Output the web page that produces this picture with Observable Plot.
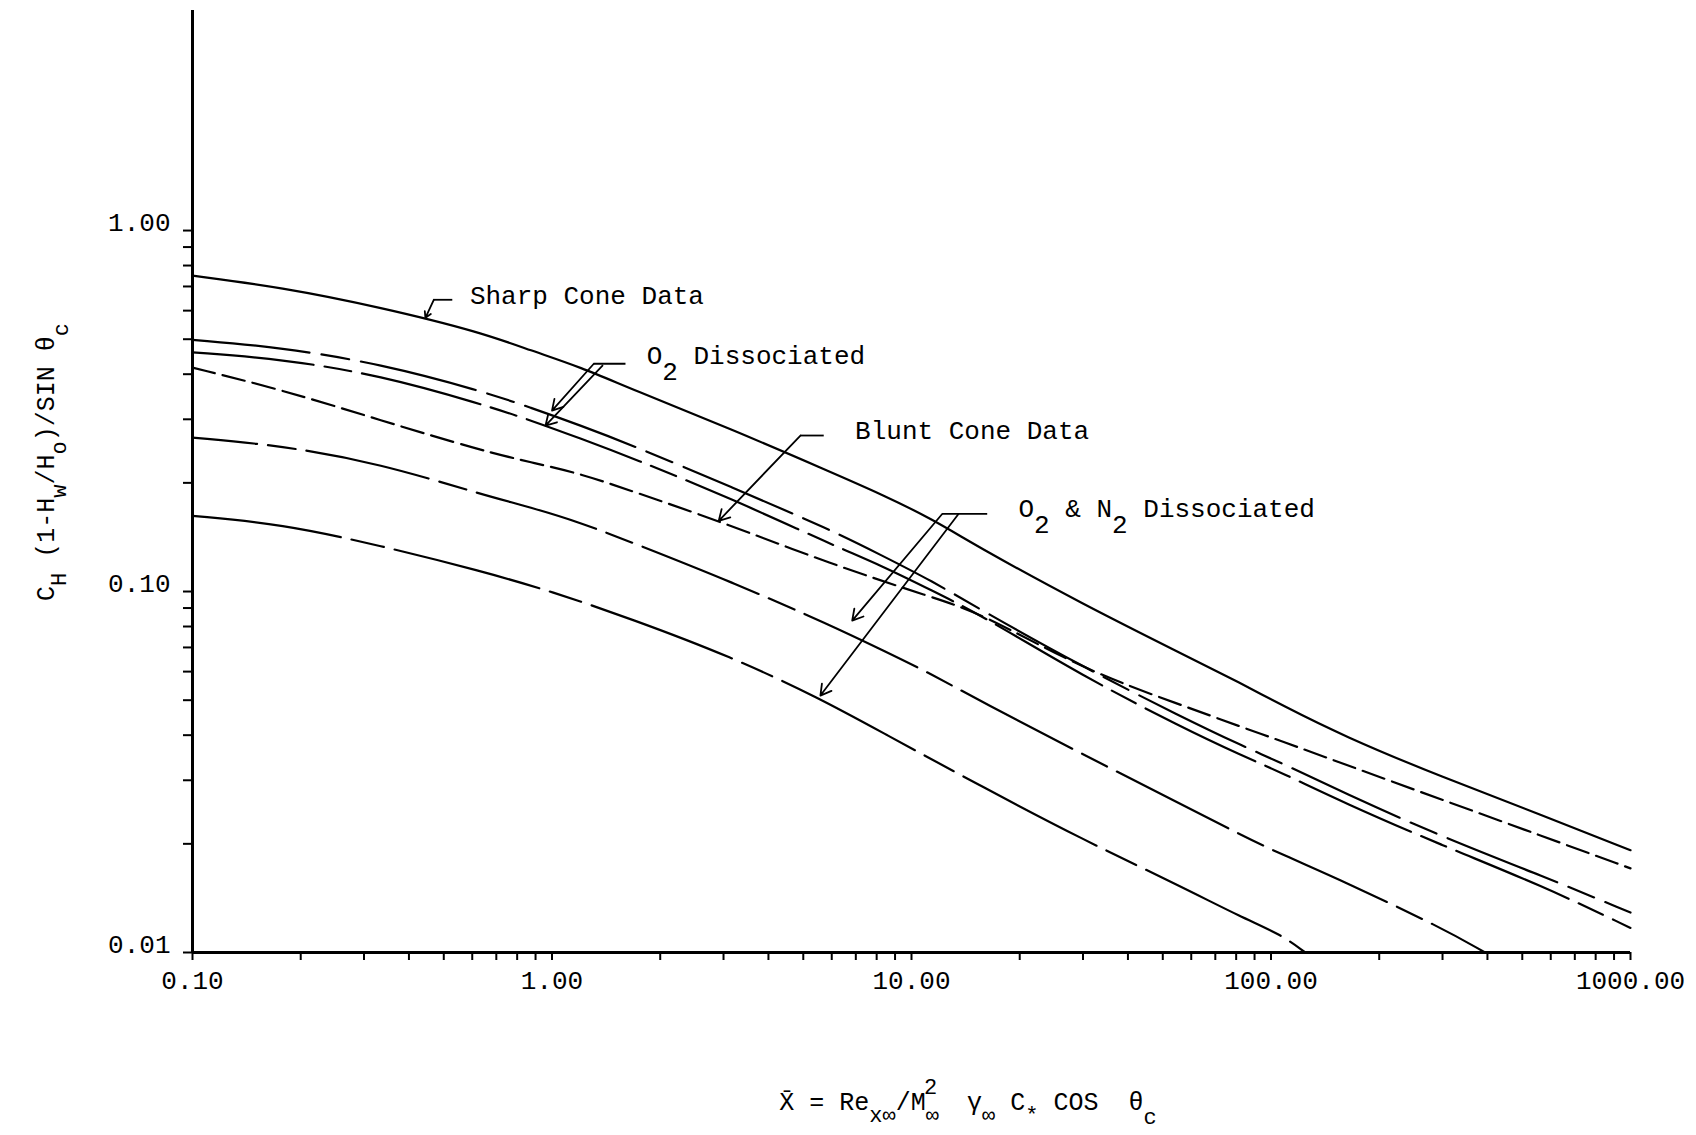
<!DOCTYPE html>
<html>
<head>
<meta charset="utf-8">
<script src="https://cdn.jsdelivr.net/npm/d3@7"></script>
<script src="https://cdn.jsdelivr.net/npm/@observablehq/plot@0.6"></script>
<style>
  html, body { margin: 0; padding: 0; background: #fff; }
  #chart svg { display: block; }
  #chart text { font-family: "Liberation Mono", "DejaVu Sans Mono", monospace; fill: #000; }
  #chart g[aria-label^="x-axis"] line, #chart g[aria-label^="x-axis"] path,
  #chart g[aria-label^="y-axis"] line, #chart g[aria-label^="y-axis"] path { stroke-width: 2px; }
</style>
</head>
<body>
<div id="chart"></div>
<script>
// ---------------- data ----------------
const sharpX = [0.1, 0.176, 0.334, 0.634, 0.874, 1.205, 1.66, 3.15, 5.98, 8.25, 11.4, 15.7, 29.8, 56.5, 83, 107, 158, 299, 569, 1000];
const sharpY = [0.750, 0.697, 0.613, 0.523, 0.465, 0.418, 0.364, 0.282, 0.214, 0.186, 0.159, 0.131, 0.0925, 0.0672, 0.0555, 0.0485, 0.0399, 0.0306, 0.0240, 0.0192];

const o2UpperX = [0.1, 0.176, 0.334, 0.634, 0.874, 1.205, 1.66, 3.15, 5.98, 8.25, 11.4, 15.7, 29.8, 56.5, 83, 107, 158, 299, 569, 1000];
const o2UpperY = [0.498, 0.475, 0.427, 0.360, 0.323, 0.288, 0.255, 0.195, 0.148, 0.126, 0.107, 0.0886, 0.0620, 0.0449, 0.0374, 0.0335, 0.0278, 0.0209, 0.0163, 0.0129];

const o2LowerX = [0.1, 0.176, 0.334, 0.634, 0.874, 1.205, 1.66, 3.15, 5.98, 8.25, 11.4, 15.7, 29.8, 56.5, 83, 107, 158, 299, 569, 1000];
const o2LowerY = [0.460, 0.441, 0.397, 0.331, 0.298, 0.265, 0.235, 0.181, 0.135, 0.118, 0.1006, 0.0858, 0.0585, 0.0420, 0.0351, 0.0315, 0.0261, 0.0198, 0.0153, 0.0117];

const bluntX = [0.1, 0.176, 0.334, 0.634, 0.874, 1.205, 1.66, 2.91, 5.98, 11.4, 15.7, 29.8, 56.5, 83, 107, 158, 299, 569, 1000];
const bluntY = [0.417, 0.363, 0.298, 0.246, 0.228, 0.212, 0.190, 0.157, 0.119, 0.0964, 0.087, 0.061, 0.0484, 0.0421, 0.0385, 0.0334, 0.0265, 0.0210, 0.0171];

const o2n2UpperX = [0.1, 0.176, 0.334, 0.634, 0.874, 1.205, 1.66, 3.15, 5.98, 8.25, 11.4, 15.7, 29.8, 56.5, 83, 107, 158, 299, 394];
const o2n2UpperY = [0.267, 0.254, 0.226, 0.186, 0.171, 0.155, 0.137, 0.1065, 0.0805, 0.069, 0.059, 0.0494, 0.0355, 0.0257, 0.0211, 0.0187, 0.0158, 0.0117, 0.0100];

const o2n2LowerX = [0.1, 0.176, 0.334, 0.634, 1.0, 1.66, 3.15, 5.58, 8.25, 15.7, 29.8, 56.5, 83, 107, 124.6];
const o2n2LowerY = [0.162, 0.154, 0.134, 0.114, 0.100, 0.084, 0.066, 0.0505, 0.0408, 0.0288, 0.0206, 0.0152, 0.0125, 0.0112, 0.0100];

// axis ticks and labels
const xTicks = [0.1,0.2,0.3,0.4,0.5,0.6,0.7,0.8,0.9, 1,2,3,4,5,6,7,8,9, 10,20,30,40,50,60,70,80,90, 100,200,300,400,500,600,700,800,900, 1000];
const xMajor = [0.1, 1, 10, 100, 1000];
const xMajorLabels = ["0.10", "1.00", "10.00", "100.00", "1000.00"];
const yTicks = [0.01,0.02,0.03,0.04,0.05,0.06,0.07,0.08,0.09, 0.1,0.2,0.3,0.4,0.5,0.6,0.7,0.8,0.9, 1];
const yMajor = [0.01, 0.1, 1];
const yMajorLabels = ["0.01", "0.10", "1.00"];

// annotation labels (anchored in data space); parts: [text, subscript?]
const labelParts = [
  [["Sharp Cone Data", 0]],
  [["O", 0], ["2", 1], [" Dissociated", 0]],
  [["Blunt Cone Data", 0]],
  [["O", 0], ["2", 1], [" & N", 0], ["2", 1], [" Dissociated", 0]]
];
const labelX = [0.593, 1.84, 6.99, 19.9];
const labelY = [0.661, 0.4505, 0.279, 0.1693];

// leader lines (data space): horizontal bars and arrows
const barX1 = [0.469, 1.307, 4.91, 12.17];
const barX2 = [0.528, 1.601, 5.70, 16.24];
const barY  = [0.643, 0.4275, 0.2705, 0.164];
const arrowX1 = [0.469, 1.307, 1.382, 4.91, 12.17, 13.51];
const arrowY1 = [0.643, 0.4275, 0.4227, 0.2705, 0.164, 0.164];
const arrowX2 = [0.4445, 1.0, 0.959, 2.91, 6.84, 5.58];
const arrowY2 = [0.573, 0.317, 0.288, 0.157, 0.0831, 0.0515];

// ---------------- build tables ----------------
const toRows = (xs, ys) => xs.map((x, i) => ({x, y: ys[i]}));
const curves = [
  {rows: toRows(sharpX, sharpY), dash: null, offset: 0},
  {rows: toRows(o2UpperX, o2UpperY), dash: "118,12,28,12", offset: 0},
  {rows: toRows(o2LowerX, o2LowerY), dash: "122,11,27,11", offset: 0},
  {rows: toRows(bluntX, bluntY), dash: "23,8", offset: 0},
  {rows: toRows(o2n2UpperX, o2n2UpperY), dash: "125,11,28,11", offset: 60},
  {rows: toRows(o2n2LowerX, o2n2LowerY), dash: "150,11,33,11", offset: 0}
];
const bars = barX1.map((x1, i) => ({x1, x2: barX2[i], y: barY[i]}));
const arrows = arrowX1.map((x1, i) => ({x1, y1: arrowY1[i], x2: arrowX2[i], y2: arrowY2[i]}));
const yLabels = yMajor.map((y, i) => ({x: 0.1, y, t: yMajorLabels[i]}));
const xLabelOf = d => { const i = xMajor.findIndex(v => Math.abs(v - d) < 1e-9 * Math.max(1, v)); return i >= 0 ? xMajorLabels[i] : ""; };

const marks = [];
for (const c of curves) {
  const opts = {x: "x", y: "y", stroke: "#000", strokeWidth: 2.2, curve: "basis"};
  if (c.dash) { opts.strokeDasharray = c.dash; opts.strokeDashoffset = c.offset; }
  marks.push(Plot.line(c.rows, opts));
}
marks.push(
  Plot.ruleX([{x: 0.1, y1: 0.01, y2: 4.07}], {x: "x", y1: "y1", y2: "y2", stroke: "#000", strokeWidth: 3}),
  Plot.ruleY([{y: 0.01, x1: 0.1, x2: 1000}], {y: "y", x1: "x1", x2: "x2", stroke: "#000", strokeWidth: 3}),
  Plot.link(bars, {x1: "x1", x2: "x2", y1: "y", y2: "y", stroke: "#000", strokeWidth: 1.8}),
  Plot.arrow(arrows, {x1: "x1", y1: "y1", x2: "x2", y2: "y2", stroke: "#000", strokeWidth: 1.8, headLength: 10, bend: 0}),
  Plot.text(yLabels, {x: "x", y: "y", text: "t", textAnchor: "end", dx: -22, dy: -8, fontSize: 26, fill: "#000"})
);

const plot = Plot.plot({
  width: 1696,
  height: 1135,
  marginLeft: 192,
  marginRight: 66,
  marginTop: 10,
  marginBottom: 183,
  style: {background: "#fff", color: "#000", fontSize: "26px", fontFamily: "Liberation Mono, monospace"},
  x: {type: "log", domain: [0.1, 1000], ticks: xTicks, tickFormat: xLabelOf, tickSize: 8, tickPadding: 10, label: null},
  y: {type: "log", domain: [0.01, 4.07], ticks: yTicks, tickFormat: () => "", tickSize: 9, tickPadding: 12, label: null},
  marks
});
document.getElementById("chart").appendChild(plot);

// ---------------- rich texts (annotations and axis titles) ----------------
const svg = d3.select(plot.tagName.toLowerCase() === "svg" ? plot : plot.querySelector("svg"));
const sx = plot.scale("x"), sy = plot.scale("y");

function richText(g, parts, size, subSize) {
  let cur = 0;
  for (const [txt, shift, dx] of parts) {
    const ts = g.append("tspan").text(txt).attr("dy", shift - cur);
    if (dx) ts.attr("dx", dx);
    if (shift !== 0 && subSize) ts.style("font-size", subSize + "px");
    cur = shift;
  }
}

// annotation labels
labelParts.forEach((parts, i) => {
  const g = svg.append("text")
    .attr("x", sx.apply(labelX[i]))
    .attr("y", sy.apply(labelY[i]) + 9)
    .attr("text-anchor", "start")
    .style("font-size", "26px");
  richText(g, parts.map(([t, s]) => [t, s ? 16 : 0]), 26, 0);
});

const xTitle = svg.append("text")
  .attr("x", 968).attr("y", 1110)
  .attr("text-anchor", "middle")
  .style("font-size", "25px");
richText(xTitle, [
  ["X\u0304 = Re", 0], ["x\u221E", 12], ["/M", 0], ["\u221E", 12], ["2", -16, -15],
  ["  \u03B3", 0], ["\u221E", 12], [" C", 0], ["*", 12], [" COS  \u03B8", 0], ["c", 14]
], 25, 22);

const yTitle = svg.append("text")
  .attr("transform", "translate(54,462) rotate(-90)")
  .attr("text-anchor", "middle")
  .style("font-size", "25px");
richText(yTitle, [
  ["C", 0], ["H", 12], [" (1-H", 0], ["w", 12], ["/H", 0], ["o", 12], [")/SIN \u03B8", 0], ["c", 14]
], 25, 22);
</script>
</body>
</html>
